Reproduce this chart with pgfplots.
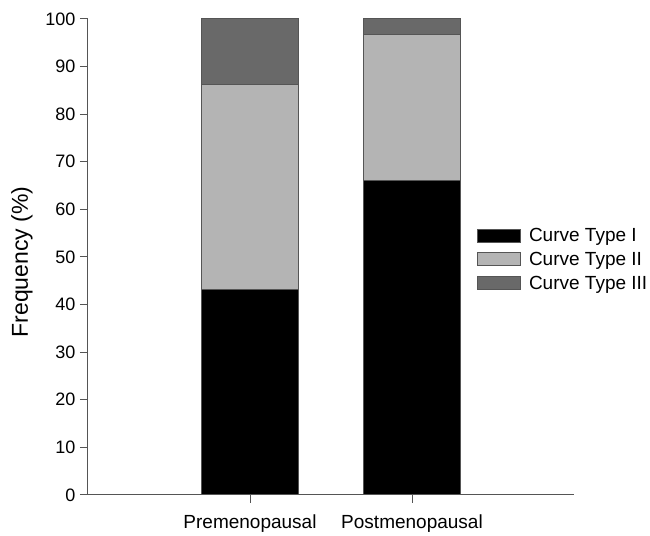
\documentclass[border=0pt]{standalone}
\usepackage{pgfplots}
\pgfplotsset{compat=1.18}
\usepackage{fontspec}
\setmainfont{Liberation Sans}
\definecolor{axgray}{HTML}{555555}
\definecolor{typeII}{HTML}{B4B4B4}
\definecolor{typeIII}{HTML}{696969}
\begin{document}
\begin{tikzpicture}
\begin{axis}[
  scale only axis,
  width=486pt, height=476pt,
  xmin=0, xmax=3, ymin=0, ymax=100,
  axis x line*=bottom, axis y line*=left,
  axis line style={axgray, line width=1pt, -},
  ybar stacked, bar width=97pt,
  xtick={1,2}, xticklabels={Premenopausal,Postmenopausal},
  ytick={0,10,...,100},
  tick align=outside,
  major tick length=8pt,
  tick style={axgray, line width=1pt},
  /pgf/number format/assume math mode=true,
  tick label style={font=\fontsize{18}{21}\selectfont},
  xticklabel style={yshift=-8pt, font=\fontsize{19}{22}\selectfont},
  yticklabel style={xshift=-1pt},
  ylabel={Frequency (\%)},
  ylabel style={at={(axis description cs:0,0.5)}, anchor=center, yshift=66pt, xshift=-5pt, font=\fontsize{23}{27}\selectfont},
  legend style={at={(rel axis cs:0.8,0.565)}, anchor=north west, draw=none, fill=none,
    font=\fontsize{19}{22}\selectfont, inner sep=0pt, row sep=5pt,
    /tikz/every odd column/.append style={column sep=6pt}},
  legend cell align=left,
  legend image code/.code={\draw[#1, line width=1pt] (0pt,-6.5pt) rectangle (43pt,6.5pt);},
]
\addplot[fill=black, draw=axgray, line width=1pt] coordinates {(1,43.2) (2,66.0)};
\addplot[fill=typeII, draw=axgray, line width=1pt] coordinates {(1,43.1) (2,30.8)};
\addplot[fill=typeIII, draw=axgray, line width=1pt] coordinates {(1,13.7) (2,3.2)};
\legend{Curve Type I, Curve Type II, Curve Type III}
\end{axis}
\path[use as bounding box] (current axis.south west) ++(-88pt,-37pt) rectangle ++(650pt,532pt);
\end{tikzpicture}
\end{document}
